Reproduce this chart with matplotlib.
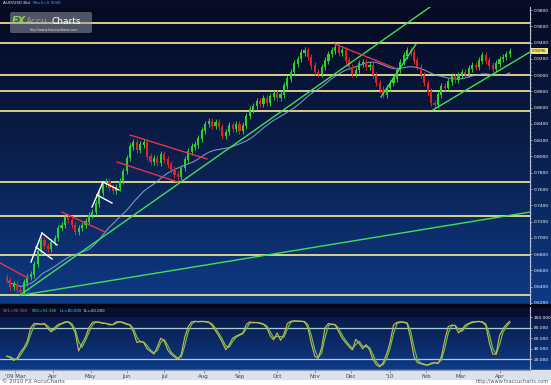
import numpy as np
import matplotlib
matplotlib.use('Agg')
import matplotlib.pyplot as plt
import matplotlib.transforms as mtransforms
from matplotlib.colors import LinearSegmentedColormap
from matplotlib.patches import Rectangle, FancyBboxPatch

# ---- data (2-day candles from 2009-02-23) ----
start_date = '2009-02-23'
first_open = 0.652
closes = [
    0.648, 0.640, 0.643, 0.636, 0.634, 0.645, 0.652, 0.655, 0.668, 0.683, 0.697,
    0.690, 0.686, 0.695, 0.700, 0.712, 0.716, 0.725, 0.722, 0.716, 0.708, 0.712, 0.716, 0.720, 0.728, 0.732,
    0.742, 0.755, 0.766, 0.770, 0.762, 0.758, 0.762, 0.770, 0.782, 0.798, 0.812, 0.818, 0.808, 0.815, 0.818,
    0.800, 0.793, 0.798, 0.792, 0.803, 0.796, 0.790, 0.784, 0.778, 0.775, 0.786, 0.796, 0.806, 0.812, 0.815,
    0.822, 0.832, 0.840, 0.843, 0.838, 0.842, 0.836, 0.826, 0.830, 0.838, 0.834, 0.840, 0.832, 0.838, 0.850,
    0.858, 0.862, 0.868, 0.865, 0.872, 0.866, 0.874, 0.878, 0.872, 0.876, 0.887, 0.896, 0.904, 0.914, 0.920,
    0.928, 0.930, 0.922, 0.912, 0.904, 0.902, 0.910, 0.918, 0.926, 0.930, 0.934, 0.928, 0.930, 0.918, 0.910,
    0.902, 0.906, 0.914, 0.916, 0.910, 0.912, 0.900, 0.890, 0.882, 0.876, 0.884, 0.890, 0.896, 0.906, 0.916,
    0.924, 0.930, 0.928, 0.918, 0.910, 0.900, 0.890, 0.880, 0.866, 0.864, 0.876, 0.886, 0.884, 0.892, 0.898,
    0.894, 0.900, 0.904, 0.902, 0.908, 0.912, 0.910, 0.918, 0.924, 0.918, 0.912, 0.908, 0.914, 0.920, 0.922,
    0.926, 0.9296,
]
wick = 0.004

sd1 = [
    26, 24, 18, 22, 34, 42, 55, 80, 88, 87, 86,
    88, 78, 72, 80, 86, 88, 91, 91, 84, 70, 36, 50, 62, 80, 90,
    91, 90, 88, 88, 85, 86, 91, 91, 89, 86, 85, 72, 52, 54, 52,
    40, 35, 30, 44, 60, 55, 38, 30, 25, 20, 30, 62, 82, 91, 92,
    91, 92, 91, 90, 84, 74, 64, 52, 38, 48, 60, 64, 67, 70, 86,
    91, 89, 90, 88, 86, 80, 64, 57, 70, 56, 68, 88, 92, 93, 92,
    92, 91, 80, 50, 26, 22, 42, 80, 88, 86, 85, 72, 60, 52, 44,
    38, 58, 50, 40, 48, 38, 20, 10, 6, 14, 30, 52, 85, 90, 91,
    90, 88, 60, 25, 14, 12, 10, 9, 13, 14, 12, 25, 57, 82, 85,
    84, 70, 76, 85, 88, 91, 91, 92, 90, 84, 52, 30, 30, 65, 78,
    86, 92,
]

levels = [0.9638, 0.9400, 0.9000, 0.8800, 0.8560, 0.7690, 0.7265, 0.6790, 0.6300]

# trendlines as (index, price) pairs
green_lines = [
    ((3.86, 0.6297), (126.6, 0.9923)),
    ((4.44, 0.6297), (152.9, 0.7317)),
    ((109.35, 0.8731), (119.6, 0.9382)),
    ((124.5, 0.8571), (152.9, 0.9284)),
]
red_lines = [
    ((-1.99, 0.6691), (6.2, 0.6506)),
    ((16.13, 0.7317), (28.7, 0.7072)),
    ((36.0, 0.8264), (58.5, 0.7969)),
    ((32.2, 0.7932), (50.0, 0.7686)),
    ((95.9, 0.9382), (113.4, 0.9087)),
]
white_lines = [
    ((7.07, 0.6703), (10.29, 0.7059)),
    ((10.29, 0.7059), (14.67, 0.6912)),
    ((8.53, 0.6887), (13.21, 0.6740)),
    ((24.9, 0.7379), (28.11, 0.7686)),
    ((28.11, 0.7686), (32.79, 0.7588)),
    ((26.36, 0.7527), (30.74, 0.7428)),
]

month_starts = ['2009-03-01', '2009-04-01', '2009-05-01', '2009-06-01', '2009-07-01',
                '2009-08-01', '2009-09-01', '2009-10-01', '2009-11-01', '2009-12-01',
                '2010-01-01', '2010-02-01', '2010-03-01', '2010-04-01']
month_names = ["'09 Mar", 'Apr', 'May', 'Jun', 'Jul', 'Aug', 'Sep', 'Oct', 'Nov', 'Dec',
               "'10", 'Feb', 'Mar', 'Apr']

# ---- derived series ----
closes = np.array(closes)
opens = np.r_[first_open, closes[:-1]]
highs = np.maximum(opens, closes) + wick
lows = np.minimum(opens, closes) - wick
idx = np.arange(len(closes))
ma = np.convolve(closes, np.ones(25), 'full')[:len(closes)] / np.minimum(idx + 1, 25)
sd1 = np.array(sd1, dtype=float)
sd2 = np.r_[sd1[0], (sd1[1:] + sd1[:-1]) / 2]
month_pos = np.busday_count(start_date, month_starts) / 2

W, H = 551, 385
fig = plt.figure(figsize=(W / 100, H / 100), dpi=100, facecolor='white')

# ---- background ----
bg = fig.add_axes([0, 0, 1, 1], zorder=0)
bg.axis('off')
main_cmap = LinearSegmentedColormap.from_list('m', ['#050a22', '#0a1f4c', '#0e3a86'])
ind_cmap = LinearSegmentedColormap.from_list('i', ['#0a1b48', '#0e3a88'])
grad = np.linspace(0, 1, 256).reshape(-1, 1)
bg.add_patch(Rectangle((0, 0), W, 7, color='#080b26'))
bg.imshow(grad, cmap=main_cmap, extent=(0, W, 304, 7), aspect='auto')
bg.add_patch(Rectangle((0, 304), W, 4, color='#04060f'))
bg.add_patch(Rectangle((0, 308), W, 8, color='#0a0e2e'))
bg.imshow(grad, cmap=ind_cmap, extent=(0, W, 370, 316), aspect='auto')
bg.add_patch(Rectangle((0, 370), W, 9, color='#dde2ea'))
bg.set_xlim(0, W)
bg.set_ylim(H, 0)

xlim = (-1.99, 152.9)
lab_kw = dict(labelsize=3.2, colors='#c8d0e8', labelcolor='white', length=1.5, width=0.5, pad=1)

# ---- main price panel ----
ax = fig.add_axes([0, 1 - 304 / H, 530 / W, 297 / H], zorder=2)
ax.patch.set_alpha(0)
ax.set_xlim(*xlim)
ax.set_ylim(0.6187, 0.9837)

for lv in levels:
    ax.axhline(lv, color='#e8df8e', lw=1.3, zorder=2)

ax.plot(idx, ma, color='#8fa6d8', lw=0.8, alpha=0.85, zorder=3)

up = closes >= opens
col = np.where(up, '#2fcf2f', '#e02424')
ax.vlines(idx, lows, highs, colors=col, lw=0.7, zorder=4)
ax.bar(idx, np.abs(closes - opens) + 0.0006, bottom=np.minimum(opens, closes) - 0.0003,
       width=0.62, color=col, zorder=5)

for (a, b) in green_lines:
    ax.plot([a[0], b[0]], [a[1], b[1]], color='#3ee05a', lw=1.0, zorder=6)
for (a, b) in red_lines:
    ax.plot([a[0], b[0]], [a[1], b[1]], color='#e8324a', lw=1.0, zorder=6)
for (a, b) in white_lines:
    ax.plot([a[0], b[0]], [a[1], b[1]], color='white', lw=1.0, zorder=6)

ticks = np.arange(0.62, 0.9801, 0.02)
ax.yaxis.tick_right()
ax.set_yticks(ticks)
ax.set_yticklabels(['%.4f' % v for v in ticks])
ax.set_yticks(np.arange(0.62, 0.9801, 0.005), minor=True)
ax.tick_params(axis='y', which='major', **lab_kw)
ax.tick_params(axis='y', which='minor', colors='#c8d0e8', length=1, width=0.4)
ax.set_xticks([])
for s in ['top', 'left', 'bottom']:
    ax.spines[s].set_visible(False)
ax.spines['right'].set_color('#b8c0d8')
ax.spines['right'].set_linewidth(0.8)

trans = mtransforms.blended_transform_factory(ax.transAxes, ax.transData)
ax.text(1.004, closes[-1], '%.4f' % closes[-1], transform=trans, fontsize=3.1,
        color='#202020', va='center', ha='left', zorder=8, clip_on=False,
        bbox=dict(boxstyle='square,pad=0.2', fc='#efe77a', ec='none'))

# ---- oscillator panel ----
ax2 = fig.add_axes([0, 1 - 370 / H, 530 / W, 63 / H], zorder=2)
ax2.patch.set_alpha(0)
ax2.set_xlim(*xlim)
ax2.set_ylim(0, 119)
ax2.axhline(80, color='#a6cfd6', lw=0.9)
ax2.axhline(20, color='#a6cfd6', lw=0.9)
ax2.plot(idx, sd2, color='#5cc44a', lw=0.9)
ax2.plot(idx, sd1, color='#d9b84a', lw=0.8)
ax2.yaxis.tick_right()
ax2.set_yticks([20, 40, 60, 80, 100])
ax2.set_yticklabels(['%.3f' % v for v in [20, 40, 60, 80, 100]])
ax2.tick_params(axis='y', **lab_kw)
ax2.set_xticks(month_pos)
ax2.set_xticklabels(month_names)
ax2.tick_params(axis='x', labelsize=4, colors='#7a8299', labelcolor='#3a4258', length=2, width=0.5, pad=1.2)
for s in ['top', 'left']:
    ax2.spines[s].set_visible(False)
ax2.spines['right'].set_color('#b8c0d8')
ax2.spines['right'].set_linewidth(0.8)
ax2.spines['bottom'].set_color('#9098b0')
ax2.spines['bottom'].set_linewidth(0.8)

# ---- overlay texts ----
ov = fig.add_axes([0, 0, 1, 1], zorder=10)
ov.set_xlim(0, W)
ov.set_ylim(H, 0)
ov.axis('off')
ov.patch.set_alpha(0)
ov.text(3, 3.5, 'AUD/USD Bid', fontsize=3.0, color='#e8e8f0', va='center')
ov.text(33, 3.5, 'Mov5=0.9046', fontsize=3.0, color='#3aa0ff', va='center')
ov.add_patch(FancyBboxPatch((10, 12), 82, 21, boxstyle='round,pad=0,rounding_size=2',
                            fc='#9a9ea8', ec='none', alpha=0.5))
ov.text(12, 21, 'FX', fontsize=7, color='#8fcf4a', fontweight='bold', style='italic', va='center')
ov.text(26, 21.5, 'Accu', fontsize=6.5, color='#b8c0a8', alpha=0.7, va='center')
ov.text(51, 21.5, 'Charts', fontsize=6.5, color='white', va='center')
ov.text(30, 29.5, 'http://www.fxaccucharts.com', fontsize=2.4, color='#e0e0e0', va='center')
ov.text(3, 311.5, 'SD1=90.380', fontsize=2.9, color='#e0507a', va='center')
ov.text(32, 311.5, 'SD2=93.336', fontsize=2.9, color='#50d060', va='center')
ov.text(60, 311.5, 'UL=80.000', fontsize=2.9, color='#60c8e8', va='center')
ov.text(84, 311.5, 'LL=20.000', fontsize=2.9, color='#e8e8f0', va='center')
ov.text(2, 381.5, '\u00a9 2010 FX AccuCharts', fontsize=4, color='#505560', va='center')
ov.text(549, 381.5, 'http://www.fxaccucharts.com', fontsize=3.6, color='#505560', va='center', ha='right')

fig.savefig('out.png', dpi=100, facecolor='white')
